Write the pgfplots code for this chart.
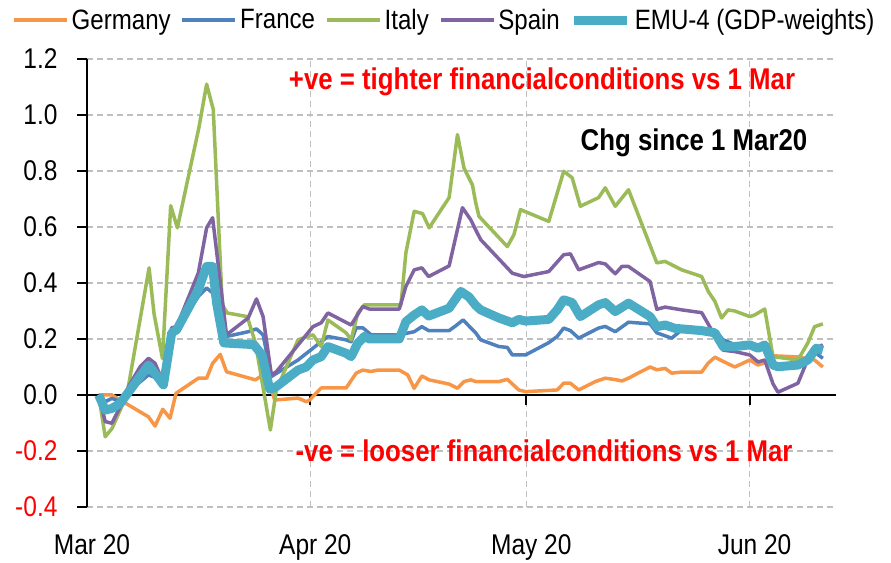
\documentclass[border=0pt]{standalone}
\usepackage{fontspec}
\setmainfont{Liberation Sans}[FakeStretch=0.86]
\usepackage{pgfplots}
\pgfplotsset{compat=1.18}
\definecolor{cGer}{HTML}{F79646}
\definecolor{cFra}{HTML}{4F81BD}
\definecolor{cIta}{HTML}{9BBB59}
\definecolor{cSpa}{HTML}{8064A2}
\definecolor{cEmu}{HTML}{4BACC6}
\definecolor{cGrid}{HTML}{BFBFBF}
\begin{document}
\begin{tikzpicture}[x=1pt,y=1pt]
\useasboundingbox (0,0) rectangle (891,562);
\begin{axis}[
  at={(87pt,55pt)}, anchor=south west,
  scale only axis, width=749pt, height=448pt,
  xmin=0, xmax=104, ymin=-0.4, ymax=1.2,
  axis y line*=left, axis x line*=bottom,
  x axis line style={draw=none},
  y axis line style={line width=2pt, black},
  xtick={0,31,61,92},
  xticklabels={Mar 20,Apr 20,May 20,Jun 20},
  xtick style={draw=none},
  ytick={-0.4,-0.2,0,0.2,0.4,0.6,0.8,1.0,1.2},
  yticklabels={\textcolor{red}{-0.4},\textcolor{red}{-0.2},0.0,0.2,0.4,0.6,0.8,1.0,1.2},
  ytick style={black, line width=1.5pt},
  tick align=outside, major tick length=10pt,
  xmajorgrids, ymajorgrids,
  grid style={cGrid, line width=1.5pt, dash pattern=on 6pt off 4pt},
  tick label style={font=\fontsize{28.5}{32}\selectfont},
  xticklabel style={yshift=-14pt, xshift=5pt},
  yticklabel style={xshift=-16pt},
  legend style={draw=none, fill=none, at={(axis description cs:0.477,1.087)}, anchor=center,
    legend columns=-1, font=\fontsize{28}{32}\selectfont,
    nodes={inner sep=2pt},
    /tikz/every odd column/.append style={column sep=1pt},
    /tikz/every even column/.append style={column sep=8pt}},
  legend image code/.code={\draw[#1] (0pt,0pt) -- (53pt,0pt);},
  every axis plot/.append style={line join=round},
]
\draw[black, line width=2pt] (axis cs:0,0) -- (axis cs:104,0);
\draw[black, line width=2pt] (axis cs:31,0) -- ([yshift=-10pt]axis cs:31,0);
\draw[black, line width=2pt] (axis cs:61,0) -- ([yshift=-10pt]axis cs:61,0);
\draw[black, line width=2pt] (axis cs:92,0) -- ([yshift=-10pt]axis cs:92,0);
\addplot[cGer, line width=3.5pt] coordinates {
(1.62,0) (3.46,0) (4.61,-0.018) (8.54,-0.078) (9.45,-0.111) (10.52,-0.051) (11.53,-0.083)
(12.36,0.006) (15.46,0.06) (16.61,0.06) (17.44,0.113) (18.5,0.145) (19.37,0.083) (23.39,0.054)
(24.31,0.07) (25.6,0.02) (26.06,-0.018) (29.30,-0.011) (30.45,-0.024) (30.90,-0.018) (32.52,0.025)
(35.98,0.025) (37.37,0.078) (38.29,0.089) (39.44,0.084) (40.37,0.089) (43.36,0.089) (44.52,0.072)
(45.43,0.024) (46.50,0.068) (47.51,0.054) (50.28,0.039) (51.44,0.024) (52.35,0.048) (53.28,0.054)
(53.97,0.048) (57.20,0.048) (58.36,0.056) (59.96,0.018) (60.89,0.012) (65.28,0.018) (66.19,0.042)
(67.12,0.042) (68.27,0.018) (70.58,0.048) (71.96,0.06) (73.35,0.055) (74.27,0.05) (75.19,0.06)
(76.5,0.078) (78.19,0.1) (79.12,0.09) (80.27,0.095) (81.19,0.078) (82.58,0.082) (85.35,0.082)
(86.26,0.114) (87.19,0.135) (88.33,0.12) (89.95,0.1) (92.03,0.125) (93.18,0.107) (94.10,0.115)
(95.25,0.14) (98.71,0.136) (99.87,0.13) (101.02,0.125) (102.17,0.1)
};
\addlegendentry{Germany}
\addplot[cFra, line width=3.5pt] coordinates {
(1.62,0) (2.53,-0.024) (3.46,-0.012) (4.61,-0.024) (5.77,0.012) (8.54,0.072) (9.69,0.06)
(10.61,0.036) (11.76,0.226) (12.45,0.233) (15.46,0.352) (16.61,0.382) (17.44,0.365) (17.99,0.304)
(19.37,0.209) (22.38,0.226) (23.53,0.236) (24.45,0.215) (25.60,0.066) (29.30,0.125) (31.37,0.167)
(33.45,0.209) (35.98,0.197) (36.67,0.19) (37.37,0.24) (38.29,0.24) (39.44,0.215) (43.36,0.215)
(45.43,0.226) (46.50,0.244) (47.43,0.23) (50.28,0.23) (51.20,0.247) (52.22,0.268) (53.28,0.24)
(53.97,0.222) (54.66,0.197) (57.20,0.173) (58.36,0.17) (59.05,0.143) (60.89,0.143) (64.12,0.187)
(65.28,0.209) (66.19,0.239) (67.12,0.23) (68.27,0.203) (71.04,0.239) (71.96,0.245) (73.35,0.226)
(75.19,0.26) (78.19,0.254) (79.12,0.222) (81.19,0.203) (82.58,0.233) (85.35,0.23) (87.19,0.23)
(88.33,0.197) (89.95,0.18) (92.03,0.179) (93.18,0.161) (94.10,0.17) (95.25,0.107) (98.71,0.101)
(100.09,0.125) (101.25,0.149) (102.17,0.131)
};
\addlegendentry{France}
\addplot[cIta, line width=3.5pt] coordinates {
(1.62,0) (2.53,-0.149) (3.46,-0.12) (5.54,0) (8.62,0.454) (9.31,0.29) (10.48,0.13) (11.62,0.676)
(12.55,0.597) (15.54,0.955) (16.61,1.11) (17.53,1.02) (18.78,0.322) (19.47,0.293) (22.24,0.28)
(23.39,0.186) (25.46,-0.125) (26.29,0.018) (29.30,0.197) (31.37,0.215) (32.52,0.173) (33.45,0.268)
(35.98,0.222) (36.67,0.197) (37.60,0.293) (38.51,0.322) (43.59,0.322) (44.28,0.508) (45.43,0.656)
(46.59,0.648) (47.51,0.597) (50.28,0.705) (51.44,0.93) (52.35,0.81) (53.52,0.75) (53.97,0.687)
(54.43,0.638) (58.36,0.53) (59.27,0.572) (60.20,0.662) (64.12,0.62) (66.19,0.799) (67.36,0.776)
(68.50,0.674) (71.04,0.705) (71.96,0.74) (73.35,0.674) (75.19,0.733) (79.12,0.472) (80.27,0.477)
(82.58,0.447) (85.35,0.423) (86.26,0.37) (87.19,0.334) (88.11,0.275) (89.02,0.304) (89.95,0.3)
(92.03,0.28) (92.72,0.286) (94.10,0.307) (95.25,0.137) (98.71,0.125) (100.09,0.186) (101.02,0.244)
(102.17,0.254)
};
\addlegendentry{Italy}
\addplot[cSpa, line width=3.5pt] coordinates {
(1.62,0) (2.53,-0.095) (3.46,-0.101) (4.61,-0.042) (5.77,0.03) (7.38,0.101) (8.54,0.131) (9.45,0.113)
(10.61,0.043) (11.76,0.24) (12.45,0.244) (15.46,0.436) (16.61,0.597) (17.44,0.633) (19.37,0.215)
(22.38,0.275) (23.53,0.343) (24.45,0.28) (25.60,0.072) (26.29,0.083) (31.37,0.244) (32.52,0.258)
(33.45,0.293) (36.67,0.25) (38.29,0.316) (39.21,0.307) (43.36,0.307) (44.28,0.388) (45.43,0.447)
(46.50,0.454) (47.43,0.423) (50.28,0.461) (52.13,0.669) (53.28,0.626) (53.97,0.59) (54.66,0.555)
(59.05,0.435) (60.66,0.423) (64.12,0.441) (66.19,0.501) (67.12,0.504) (68.27,0.447) (71.04,0.473)
(71.96,0.468) (73.35,0.433) (74.27,0.459) (75.19,0.459) (78.19,0.405) (79.12,0.306) (80.27,0.314)
(82.58,0.304) (85.35,0.294) (88.33,0.16) (89.95,0.155) (92.03,0.143) (93.18,0.118) (94.10,0.125)
(95.25,0.04) (95.94,0.01) (98.71,0.042) (99.87,0.114) (101.02,0.165) (102.17,0.179)
};
\addlegendentry{Spain}
\addplot[cEmu, line width=9pt] coordinates {
(1.62,0) (2.53,-0.054) (3.46,-0.048) (4.61,-0.03) (8.54,0.107) (9.45,0.077) (10.61,0.036) (11.76,0.222)
(12.45,0.233) (15.46,0.376) (16.61,0.459) (17.44,0.459) (17.99,0.329) (19.0,0.186) (23.15,0.18)
(24.31,0.143) (25.37,0.02) (26.29,0.03) (29.30,0.089) (30.45,0.1) (31.37,0.125) (32.52,0.137)
(33.45,0.173) (35.98,0.149) (36.67,0.137) (37.60,0.185) (38.51,0.209) (39.21,0.2) (43.36,0.2)
(44.28,0.262) (45.43,0.286) (46.50,0.304) (47.43,0.282) (50.28,0.31) (51.90,0.37) (53.04,0.35)
(53.97,0.32) (54.66,0.304) (57.20,0.275) (59.05,0.258) (59.96,0.27) (60.89,0.264) (64.12,0.27)
(65.28,0.304) (66.19,0.34) (67.36,0.33) (68.50,0.28) (71.04,0.322) (71.96,0.33) (73.35,0.298)
(75.19,0.328) (78.19,0.28) (79.12,0.244) (80.27,0.25) (81.65,0.238) (85.35,0.23) (87.19,0.222)
(88.33,0.173) (89.95,0.173) (92.03,0.179) (93.18,0.167) (94.10,0.179) (95.25,0.107) (95.94,0.101)
(98.71,0.107) (100.09,0.125) (101.25,0.167) (102.17,0.16)
};
\addlegendentry{EMU-4 (GDP-weights)}
\end{axis}
\node[text=red, font=\fontsize{30}{34}\selectfont\bfseries] at (542,480) {+ve = tighter financialconditions vs 1 Mar};
\node[text=black, font=\fontsize{30}{34}\selectfont\bfseries] at (694,419) {Chg since 1 Mar20};
\node[text=red, font=\fontsize{30}{34}\selectfont\bfseries] at (544,111) {-ve = looser financialconditions vs 1 Mar};
\end{tikzpicture}
\end{document}
